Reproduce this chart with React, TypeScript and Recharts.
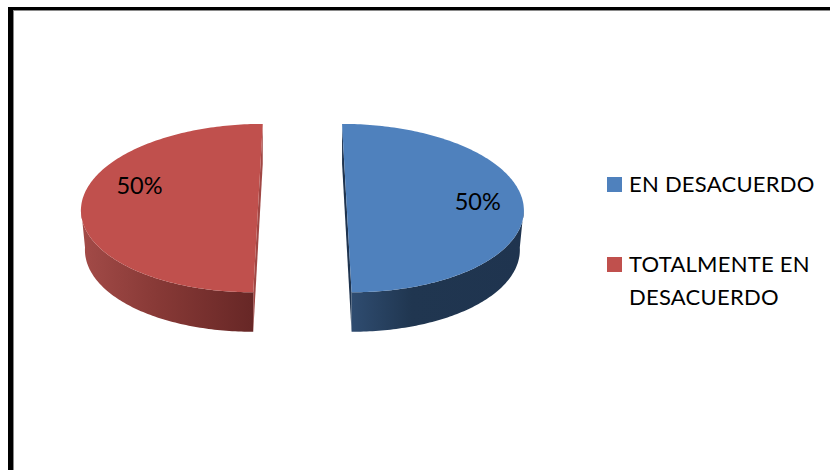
import React from "react";
import { PieChart, Pie, Legend } from "recharts";

const categories = ["EN DESACUERDO", "TOTALMENTE EN DESACUERDO"];
const seriesValues = [50, 50];
const colors = ["#4f81bd", "#c0504d"];

const chartData = categories.map((name, i) => ({ name, value: seriesValues[i], fill: colors[i] }));

const FONT = "Lato, 'Open Sans', sans-serif";
const W = 830;
const H = 470;
const CX = 302.4;
const CY = 208.1;
const RX = 177;
const RY = 84.2;
const RX_BOTTOM = 173;
const DEPTH = 39.5;
const EXPLODE = 44.4;
const LEAN = 0.0565;
const SQUASH = RY / RX;

const sideStops = [
  [
    ["0%", "#2f4c70"],
    ["35%", "#203650"],
    ["100%", "#1f344f"],
  ],
  [
    ["0%", "#a34b48"],
    ["45%", "#873936"],
    ["100%", "#672726"],
  ],
];
const cutColors = ["#1f344f", "#a04744"];
const labelOffsets = [
  [131, -7.5],
  [-118.5, -23],
];
const legendLines = [["EN DESACUERDO"], ["TOTALMENTE EN", "DESACUERDO"]];

const fmt = (p: number[]) => `${p[0].toFixed(2)} ${p[1].toFixed(2)}`;

function arcPoints(
  from: number,
  to: number,
  cx: number,
  cy: number,
  rx: number,
  ry: number,
  side: number,
  yShift: number
) {
  const n = Math.max(2, Math.ceil(Math.abs(to - from)));
  const pts: number[][] = [];
  for (let i = 0; i <= n; i++) {
    const a = ((from + ((to - from) * i) / n) * Math.PI) / 180;
    const dy = -ry * Math.sin(a);
    // the halves lean towards each other at the back, as they do in perspective
    pts.push([cx + rx * Math.cos(a) + side * LEAN * dy, cy + dy + yShift]);
  }
  return pts;
}

function Slice3D(props: any) {
  const { cx, cy, outerRadius, startAngle, endAngle, fill, midAngle } = props;
  const index = colors.indexOf(fill);
  const rx = outerRadius;
  const ry = outerRadius * SQUASH;
  const side = Math.cos((midAngle * Math.PI) / 180) > 0 ? 1 : -1;
  const ox = cx + side * EXPLODE;
  const hi = Math.max(startAngle, endAngle);
  const lo = Math.min(startAngle, endAngle);

  const top = arcPoints(hi, lo, ox, cy, rx, ry, side, 0);
  const a = top[0];
  const b = top[top.length - 1];
  const topPath = `M${fmt([ox, cy])} L${top.map(fmt).join(" L")} Z`;

  // outer wall: only the part of the rim facing the viewer
  const f0 = side > 0 ? 0 : -180;
  const f1 = -90;
  const upper = arcPoints(f0, f1, ox, cy, rx, ry, side, 0);
  const lower = arcPoints(f1, f0, ox, cy, RX_BOTTOM, ry, side, DEPTH);
  const wallPath = `M${upper.map(fmt).join(" L")} L${lower.map(fmt).join(" L")} Z`;

  // cut face along the straight edge
  const cutPath = `M${fmt(a)} L${fmt([a[0], a[1] + DEPTH])} L${fmt([b[0], b[1] + DEPTH])} L${fmt(b)} Z`;

  const gid = `side-grad-${index}`;
  return (
    <g>
      <defs>
        <linearGradient id={gid} x1="0" y1="0" x2="1" y2="0">
          {sideStops[index].map((s) => (
            <stop key={s[0]} offset={s[0]} stopColor={s[1]} />
          ))}
        </linearGradient>
      </defs>
      <path d={cutPath} fill={cutColors[index]} />
      <path d={wallPath} fill={`url(#${gid})`} />
      <path d={topPath} fill={fill} />
    </g>
  );
}

function renderLabel(props: any) {
  const { index, cx, cy, percent, midAngle } = props;
  const side = Math.cos((midAngle * Math.PI) / 180) > 0 ? 1 : -1;
  const off = labelOffsets[index];
  return (
    <text
      key={index}
      x={cx + side * EXPLODE + off[0]}
      y={cy + off[1]}
      textAnchor="middle"
      dominantBaseline="central"
      fontFamily={FONT}
      fontSize={23.5}
      fill="#000"
    >
      {`${Math.round(percent * 100)}%`}
    </text>
  );
}

function LegendBox(props: any) {
  const items = props.payload || [];
  return (
    <div style={{ position: "relative", width: 223, height: 150, fontFamily: FONT, fontSize: 22, color: "#000" }}>
      {items.map((it: any, i: number) => (
        <div key={i} style={{ position: "absolute", left: 0, top: i * 80 }}>
          <div style={{ position: "absolute", left: 0, top: 0, width: 15, height: 15, background: it.color }} />
          {legendLines[i].map((line, j) => (
            <div
              key={line}
              style={{
                position: "absolute",
                left: 22,
                top: -10.5 + j * 33,
                lineHeight: "33px",
                letterSpacing: 0.25,
                whiteSpace: "nowrap",
              }}
            >
              {line}
            </div>
          ))}
        </div>
      ))}
    </div>
  );
}

export default function App() {
  return (
    <div style={{ position: "fixed", left: 0, top: 0, width: W, height: H, background: "#fff", overflow: "hidden" }}>
      <div
        style={{
          position: "absolute",
          left: 8,
          top: 7,
          width: W,
          height: H,
          borderLeft: "5px solid #000",
          borderTop: "3px solid #000",
          boxShadow: "inset 1px 1px 0 #8a8a8a",
        }}
      />
      <div style={{ position: "absolute", left: 0, top: 0 }}>
        <PieChart width={W} height={H} margin={{ top: 0, right: 0, bottom: 0, left: 0 }}>
          <Pie
            data={chartData}
            dataKey="value"
            nameKey="name"
            cx={CX}
            cy={CY}
            outerRadius={RX}
            innerRadius={0}
            startAngle={90}
            endAngle={-270}
            stroke="none"
            labelLine={false}
            label={renderLabel}
            shape={Slice3D}
            isAnimationActive={false}
          />
          <Legend
            layout="vertical"
            content={LegendBox}
            wrapperStyle={{ position: "absolute", left: 607, top: 177, width: 223, height: 150 }}
          />
        </PieChart>
      </div>
    </div>
  );
}
